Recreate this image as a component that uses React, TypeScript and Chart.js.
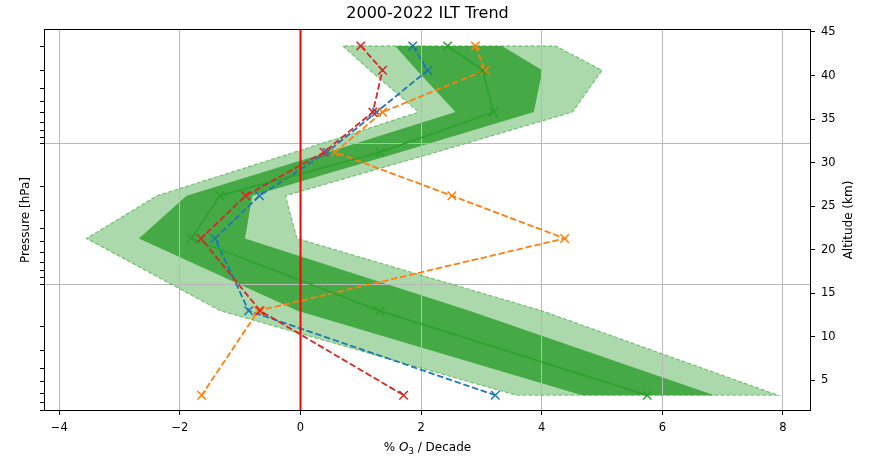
import React, { useEffect, useRef } from 'react';
import { Chart, registerables } from 'chart.js';

Chart.register(...registerables);

// ---- data ----
const altitudes = [43.4, 40.6, 35.8, 31.2, 26.2, 21.3, 13.0, 3.3];

const trendBlue = [1.86, 2.11, 1.26, 0.44, -0.68, -1.42, -0.86, 3.23];
const trendOrange = [2.9, 3.06, 1.36, 0.57, 2.51, 4.38, -0.7, -1.64];
const trendGreen = [2.44, 3.02, 3.2, 1.32, -1.34, -1.81, 1.31, 5.75];
const trendRed = [1.0, 1.36, 1.2, 0.39, -0.91, -1.65, -0.67, 1.71];

const darkLow = [1.57, 1.93, 2.57, 0.45, -1.89, -2.68, -0.05, 4.67];
const darkHigh = [3.34, 4.01, 3.87, 1.65, -0.8, -0.92, 2.8, 6.86];
const lightLow = [0.7, 1.15, 1.96, -0.1, -2.38, -3.55, -1.33, 3.58];
const lightHigh = [4.23, 5.0, 4.51, 2.25, -0.25, -0.06, 4.0, 7.92];

const xTicks = [-4, -2, 0, 2, 4, 6, 8];
const altTicks = [5, 10, 15, 20, 25, 30, 35, 40, 45];
const pressureTicks = [2, 3, 4, 5, 6, 7, 8, 9, 10, 20, 30, 40, 50, 60, 70, 80, 90, 100, 200, 300, 400, 500, 600, 700, 800];
const pressureGrid = [10, 100];

const X_MIN = -4.254;
const X_MAX = 8.466;
const ALT_MIN = 1.49;
const ALT_MAX = 45.34;
const P_TOP = 1.51;
const P_BOTTOM = 806;

const FONT = '"DejaVu Sans", sans-serif';

const toPoints = (xs: number[]) => xs.map((x, i) => ({ x, y: altitudes[i] }));
const toBand = (lo: number[], hi: number[]) => {
  const a = toPoints(lo);
  const b = toPoints(hi).reverse();
  return [...a, ...b, { x: lo[0], y: altitudes[0] }];
};

const dashed = (color: string, data: number[]) => ({
  data: toPoints(data),
  borderColor: color,
  backgroundColor: color,
  borderWidth: 1.8,
  borderDash: [6.5, 2.7],
  pointStyle: 'crossRot',
  pointRadius: 6,
  pointBorderWidth: 1.5,
  pointBorderColor: color,
  fill: false,
  tension: 0,
  xAxisID: 'x',
  yAxisID: 'y',
});

const textPlugin = {
  id: 'textPlugin',
  afterDraw(chart: any) {
    const { ctx, chartArea: a } = chart;
    ctx.save();
    // frame
    ctx.strokeStyle = '#000';
    ctx.lineWidth = 1;
    ctx.strokeRect(a.left + 0.5, a.top + 0.5, a.right - a.left - 1, a.bottom - a.top - 1);

    ctx.fillStyle = '#000';
    const cx = (a.left + a.right) / 2;
    const cy = (a.top + a.bottom) / 2;

    // title
    ctx.font = `16px ${FONT}`;
    ctx.textAlign = 'center';
    ctx.textBaseline = 'middle';
    ctx.fillText('2000-2022 ILT Trend', cx, 14);

    // left label
    ctx.font = `12px ${FONT}`;
    ctx.save();
    ctx.translate(26, cy);
    ctx.rotate(-Math.PI / 2);
    ctx.fillText('Pressure [hPa]', 0, 0);
    ctx.restore();

    // right label
    ctx.save();
    ctx.translate(849, cy);
    ctx.rotate(-Math.PI / 2);
    ctx.fillText('Altitude (km)', 0, 0);
    ctx.restore();

    // x label with italic O and subscript 3
    const parts = [
      { t: '% ', f: `12px ${FONT}`, dy: 0 },
      { t: 'O', f: `italic 12px ${FONT}`, dy: 0 },
      { t: '3', f: `8.5px ${FONT}`, dy: 2.5 },
      { t: ' / Decade', f: `12px ${FONT}`, dy: 0 },
    ];
    let total = 0;
    const widths = parts.map((p) => {
      ctx.font = p.f;
      const w = ctx.measureText(p.t).width;
      total += w;
      return w;
    });
    let x = cx - total / 2;
    ctx.textAlign = 'left';
    ctx.textBaseline = 'alphabetic';
    const baseline = 451;
    parts.forEach((p, i) => {
      ctx.font = p.f;
      ctx.fillText(p.t, x, baseline + p.dy);
      x += widths[i];
    });
    ctx.restore();
  },
};

export default function App() {
  const ref = useRef<HTMLCanvasElement>(null);

  useEffect(() => {
    if (!ref.current) return;
    const chart = new Chart(ref.current, {
      type: 'line',
      data: {
        datasets: [
          {
            data: [
              { x: 0, y: ALT_MIN },
              { x: 0, y: ALT_MAX },
            ],
            borderColor: '#ff0000',
            borderWidth: 2,
            pointRadius: 0,
            fill: false,
            xAxisID: 'x',
            yAxisID: 'y',
          },
          dashed('#d62728', trendRed),
          {
            data: toPoints(trendGreen),
            borderColor: '#2ca02c',
            backgroundColor: '#2ca02c',
            borderWidth: 1.5,
            pointStyle: 'crossRot',
            pointRadius: 6,
            pointBorderWidth: 1.5,
            pointBorderColor: '#2ca02c',
            fill: false,
            tension: 0,
            xAxisID: 'x',
            yAxisID: 'y',
          },
          dashed('#ff7f0e', trendOrange),
          dashed('#1f77b4', trendBlue),
          {
            data: toBand(darkLow, darkHigh),
            borderWidth: 0,
            borderColor: 'rgba(0,0,0,0)',
            backgroundColor: '#45a945',
            pointRadius: 0,
            fill: 'shape',
            tension: 0,
            xAxisID: 'x',
            yAxisID: 'y',
          },
          {
            data: toBand(lightLow, lightHigh),
            borderWidth: 1.2,
            borderDash: [4, 2],
            borderColor: 'rgba(44,160,44,0.55)',
            backgroundColor: '#abd9ab',
            pointRadius: 0,
            fill: 'shape',
            tension: 0,
            xAxisID: 'x',
            yAxisID: 'y',
          },
        ] as any,
      },
      options: {
        responsive: false,
        animation: false,
        events: [],
        layout: { padding: { top: 29, left: 0, right: 0, bottom: 0 } },
        plugins: {
          legend: { display: false },
          title: { display: false },
          tooltip: { enabled: false },
          filler: { drawTime: 'beforeDraw' },
        } as any,
        scales: {
          x: {
            type: 'linear',
            position: 'bottom',
            min: X_MIN,
            max: X_MAX,
            afterBuildTicks: (s: any) => {
              s.ticks = xTicks.map((v) => ({ value: v }));
            },
            afterFit: (s: any) => {
              s.height = 47;
            },
            ticks: {
              color: '#000',
              font: { family: FONT, size: 11.5 },
              padding: 6,
              maxRotation: 0,
              callback: (v: any) => String(v).replace('-', '\u2212'),
            },
            grid: {
              color: '#b8b8b8',
              lineWidth: 1,
              tickColor: '#000',
              tickLength: 4,
            },
            border: { display: false },
          },
          y: {
            type: 'linear',
            position: 'right',
            min: ALT_MIN,
            max: ALT_MAX,
            afterBuildTicks: (s: any) => {
              s.ticks = altTicks.map((v) => ({ value: v }));
            },
            afterFit: (s: any) => {
              s.width = 58;
            },
            ticks: {
              color: '#000',
              font: { family: FONT, size: 11.5 },
              padding: 6,
            },
            grid: {
              drawOnChartArea: false,
              tickColor: '#000',
              tickLength: 4,
            },
            border: { display: false },
          },
          yP: {
            type: 'logarithmic',
            position: 'left',
            reverse: true,
            min: P_TOP,
            max: P_BOTTOM,
            afterBuildTicks: (s: any) => {
              s.ticks = pressureTicks.map((v) => ({ value: v, major: pressureGrid.includes(v) }));
            },
            afterFit: (s: any) => {
              s.width = 44;
            },
            ticks: {
              callback: () => '',
              autoSkip: false,
            },
            grid: {
              color: (c: any) => (c.tick && pressureGrid.includes(c.tick.value) ? '#b8b8b8' : 'rgba(0,0,0,0)'),
              lineWidth: 1,
              tickColor: '#000',
              tickLength: 4,
            },
            border: { display: false },
          },
        } as any,
      },
      plugins: [textPlugin],
    });
    return () => chart.destroy();
  }, []);

  return (
    <div style={{ position: 'absolute', left: 0, top: 0, width: 869, height: 458 }}>
      <canvas ref={ref} width={869} height={458} style={{ display: 'block' }} />
    </div>
  );
}
